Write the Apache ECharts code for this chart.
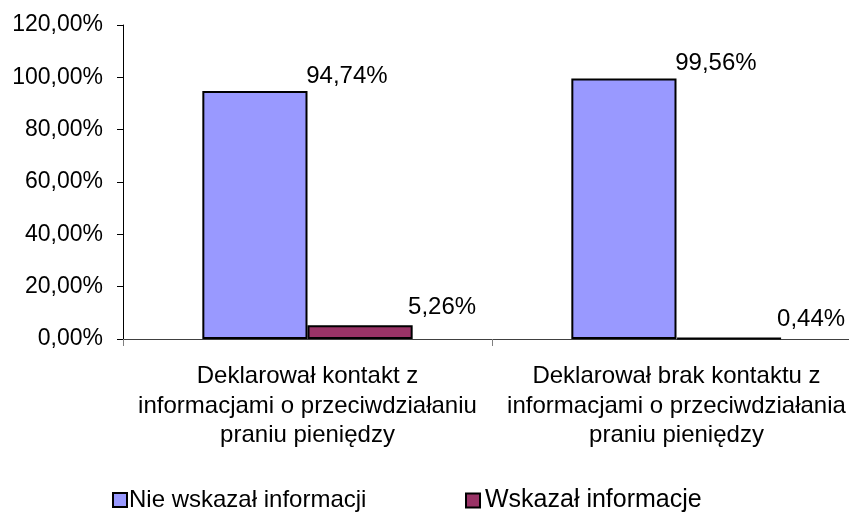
<!DOCTYPE html>
<html>
<head>
<meta charset="utf-8">
<script src="https://cdn.jsdelivr.net/npm/echarts@6/dist/echarts.min.js"></script>
<style>html,body{margin:0;padding:0;background:#fff;overflow:hidden}#c{width:861px;height:515px}</style>
</head>
<body>
<div id="c"></div>
<script>
var categories = ['Deklarował kontakt z\ninformacjami o przeciwdziałaniu\npraniu pieniędzy', 'Deklarował brak kontaktu z\ninformacjami o przeciwdziałania\npraniu pieniędzy'];
var seriesNames = ['Nie wskazał informacji', 'Wskazał informacje'];
var nieWskazal = [94.74, 99.56];
var wskazal = [5.26, 0.44];
var yTicks = [0, 20, 40, 60, 80, 100, 120];

function fmt(v) { return v.toFixed(2).replace('.', ',') + '%'; }
var FONT = 'Liberation Sans, Arial, sans-serif';
var chart = echarts.init(document.getElementById('c'), null, {renderer: 'canvas'});
function lbl(off) {
  return {show: true, position: 'top', offset: off, color: '#000', fontSize: 24, fontFamily: FONT,
    formatter: function (p) { return fmt(p.value); }};
}
chart.setOption({
  animation: false,
  backgroundColor: '#fff',
  textStyle: {fontFamily: FONT},
  grid: {left: 123, top: 25, right: 0, bottom: 176, containLabel: false},
  xAxis: {
    type: 'category', data: categories,
    axisLine: {lineStyle: {color: '#404040', width: 1}},
    axisTick: {show: true, alignWithLabel: false, length: 7, lineStyle: {color: '#808080'}},
    axisLabel: {color: '#000', fontSize: 24, fontFamily: FONT, lineHeight: 29.5, margin: 23, interval: 0, hideOverlap: false}
  },
  yAxis: {
    type: 'value', min: yTicks[0], max: yTicks[yTicks.length - 1], interval: 20,
    splitLine: {show: false},
    axisLine: {show: true, lineStyle: {color: '#000', width: 1}},
    axisTick: {show: true, length: 6, lineStyle: {color: '#000'}},
    axisLabel: {color: '#000', fontSize: 23, fontFamily: FONT, margin: 20, formatter: function (v) { return fmt(v); }}
  },
  legend: [
    {data: [seriesNames[0]], left: 107, top: 483, itemWidth: 14, itemHeight: 14, itemGap: 0,
     textStyle: {fontSize: 24, color: '#000', fontFamily: FONT, padding: [0, 0, 0, -3]}, icon: 'rect'},
    {data: [seriesNames[1]], left: 460, top: 483, itemWidth: 14, itemHeight: 14, itemGap: 0,
     textStyle: {fontSize: 25, color: '#000', fontFamily: FONT, padding: [0, 0, 0, 0]}, icon: 'rect'}
  ],
  series: [
    {name: seriesNames[0], type: 'bar', data: nieWskazal, barCategoryGap: '43%', barGap: '0%',
     itemStyle: {color: '#9999FF', borderColor: '#000', borderWidth: 2}, label: lbl([92, 2])},
    {name: seriesNames[1], type: 'bar', data: wskazal, barCategoryGap: '43%', barGap: '0%',
     itemStyle: {color: '#993366', borderColor: '#000', borderWidth: 2}, label: lbl([82, -1])}
  ]
});
</script>
</body>
</html>
